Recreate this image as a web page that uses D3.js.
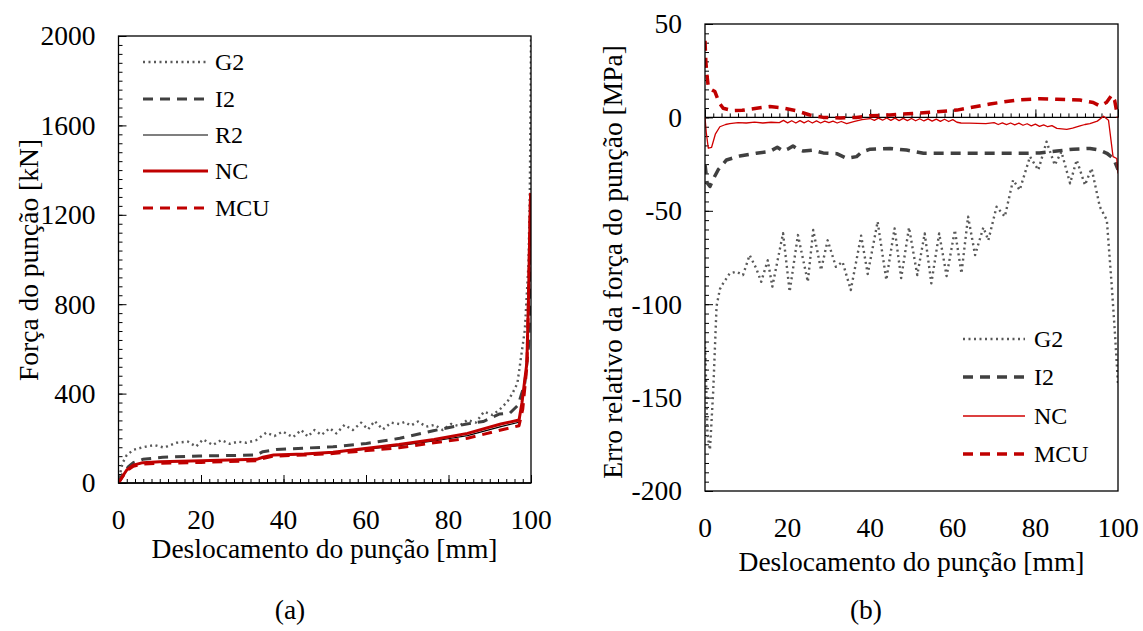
<!DOCTYPE html>
<html>
<head>
<meta charset="utf-8">
<script src="https://cdn.jsdelivr.net/npm/d3@7/dist/d3.min.js"></script>
<style>
  html, body { margin: 0; padding: 0; background: #fff; }
  svg { display: block; }
  text { font-family: 'Liberation Serif', 'Times New Roman', serif; fill: #000; }
</style>
</head>
<body>
<svg id="chart" width="1143" height="631"></svg>
<script>
// ---------------- DATA ----------------
// Panel (a): punch force [kN] vs punch displacement [mm]
const xTicks = [0, 20, 40, 60, 80, 100];
const forceTicks = [0, 400, 800, 1200, 1600, 2000];
const errorTicks = [-200, -150, -100, -50, 0, 50];

const G2_force = [[0,0],[0.5,50],[1,90],[2,125],[3.6,148],[5.9,160],[8.7,170],[11.1,158],[14,180],[16.8,185],[18.8,163],[20.5,195],[22.9,170],[24.9,192],[27,175],[29,185],[31,180],[33.4,192],[35.8,225],[37.8,210],[39.8,230],[42.3,205],[44.3,237],[45.9,208],[47.5,237],[49.2,215],[51.2,245],[52.8,222],[54.8,260],[56.8,237],[58.8,270],[60.5,240],[62.1,277],[64.1,240],[66.1,270],[68.1,264],[69.3,273],[70.9,257],[72.6,275],[74.6,252],[76.6,260],[78.6,237],[80.6,264],[82.6,255],[84.6,282],[86.6,270],[88.6,319],[90.7,304],[92.7,334],[94.3,364],[95.5,401],[96.7,446],[98.5,684],[99.4,984],[99.7,1281],[99.9,1700],[100,2000]];
const I2_force = [[0,0],[1,40],[2.4,73],[3.6,91],[5.9,106],[10.7,115],[19.6,121],[33.4,125],[35,140],[38.2,150],[52,162],[60.1,177],[68.2,200],[76.3,234],[84.4,264],[88.4,275],[92.4,309],[94.9,313],[96.9,349],[98.5,447],[99.4,610],[99.8,850],[100,1000]];
const R2_force = [[0,0],[1,30],[2,58],[3.6,80],[5.9,90],[10,94],[20,99],[33.5,105],[35,114],[37.6,124],[45,129],[52,137],[60.3,152],[68,167],[76.5,188],[84.6,212],[92.7,252],[97.1,272],[97.8,350],[99,530],[99.4,830],[99.7,1130],[99.9,1295]];
const NC_force = [[0,0],[1,30],[2,58],[3.6,80],[5.9,91],[10,95],[20,100],[33.5,106],[35,115],[37.6,125],[45,130],[52,138],[60.3,155],[68,172],[76.5,195],[84.6,222],[92.7,264],[97.1,282],[97.8,358],[99,537],[99.4,834],[99.7,1132],[99.9,1298]];
const MCU_force = [[0,0],[1,28],[2,55],[3.6,75],[5.9,85],[10,88],[20,92],[33.5,100],[35,110],[37.6,120],[45,125],[52,132],[60.3,145],[68,158],[76.5,180],[84.6,200],[92.7,237],[97.1,256],[98,330],[99,520],[99.4,820],[99.7,1120],[99.9,1290]];

// Panel (b): relative error of punch force vs punch displacement [mm]
const G2_error = [[0,-120],[0.6,-170],[1.2,-178],[2,-146],[2.8,-101],[3.6,-92],[4.4,-88.8],[6,-83.5],[7.6,-82.6],[9.2,-84.4],[10.8,-73.7],[12.4,-80.8],[13.6,-88],[15.2,-76.5],[16.3,-90.6],[18.9,-62],[20.5,-93.3],[22.5,-63],[24.9,-88],[26.2,-60.3],[28.1,-81.7],[29.7,-65.8],[31.7,-80],[33.3,-77.3],[35.3,-92.4],[37.8,-63.3],[39.4,-83.8],[41.8,-55.8],[43.9,-87],[45.9,-59.4],[47.5,-86],[49.4,-58.9],[51.4,-84.4],[53.2,-62.1],[54.8,-88.8],[56.7,-62.1],[58.5,-84.9],[60.5,-60.3],[62.1,-83.5],[63.7,-53.1],[65.4,-73.7],[67.4,-58.9],[68.6,-65.8],[70.6,-47.8],[72.6,-53.1],[74.6,-33.5],[76.2,-38.9],[78.7,-21],[80.7,-28.2],[82.7,-13],[84.7,-25.5],[86.3,-18.4],[88.4,-35.3],[90,-22.8],[92,-36.2],[93.6,-27.3],[95.6,-47.8],[97.3,-55],[98.5,-90.6],[99.3,-117],[100,-143]];
const I2_error = [[0,-25],[0.5,-35],[1.2,-37],[2,-33],[3.2,-28],[5.2,-22.8],[8.4,-20.7],[12.4,-19.2],[15.7,-18.2],[17.5,-16],[18.9,-18],[20,-17],[21.3,-15.3],[22.5,-17],[23.8,-18],[26,-17.5],[28.6,-19],[31.9,-19.4],[34.3,-21.9],[36.7,-21],[38,-18.5],[40,-17],[44.8,-16.6],[48.8,-17.5],[52.9,-19.2],[61,-19.2],[69,-19.2],[77.1,-19.2],[81,-19],[85.2,-18],[89.2,-17],[93.2,-16.6],[95.5,-17.5],[97.3,-19.2],[98.9,-21.9],[100,-28]];
const NC_error = [[0,0],[0.3,-8],[0.8,-16.5],[1.6,-16],[2.5,-9],[3.6,-5],[5,-3.8],[6,-3.3],[8,-2.8],[10,-3],[12,-2.5],[14,-3],[16,-2.6],[18,-2.8],[19,-1.6],[20,-2.9],[21,-1.8],[22,-3.0],[23,-1.7],[24,-2.9],[25,-1.8],[26,-3.0],[27,-1.9],[28,-3.0],[29,-2.0],[30,-2.8],[31,-2.0],[32,-3.0],[33,-2.2],[34.3,-3.3],[36,-2.3],[38,-1.2],[40,-0.6],[41,-1.6],[42,-0.4],[43,-1.5],[44,-0.3],[45,-1.6],[46,-0.4],[47,-1.7],[48,-0.5],[49,-1.7],[50,-0.6],[51,-1.8],[52,-0.7],[53,-1.9],[54,-0.8],[55,-2.0],[56,-0.9],[57,-2.1],[58,-1.0],[59,-2.2],[60,-1.2],[61,-2.6],[62,-3.0],[64,-3.1],[66,-3.2],[68,-3.3],[70,-2.8],[71,-3.8],[72,-2.9],[73,-3.9],[74,-3.0],[75,-4.0],[76,-3.1],[77,-4.2],[78,-3.4],[79,-4.5],[80,-3.6],[81,-4.8],[82,-4.0],[83,-5.0],[84,-4.4],[85.2,-5.9],[87.6,-6.4],[89,-5.8],[90.8,-4.6],[92,-3.8],[93.2,-3.3],[95,-2.0],[96.5,0.6],[97.7,-1.5],[98.8,-21],[99.7,-22],[100,-30]];
const MCU_error = [[0,41],[0.2,30],[0.5,22],[0.8,16.4],[1.5,15],[2.4,13.8],[3.4,8],[4.4,4.9],[6.8,3.6],[9,3.8],[12.5,4.9],[15.7,5.8],[18.1,5.3],[22.1,3.6],[25.4,1.3],[28.6,0],[32.7,-0.3],[36.7,0],[40,0.9],[44.8,1.3],[52.9,2.5],[61,3.9],[69,7.2],[75.5,9.3],[81.1,10],[85.2,9.7],[90.8,9.3],[94,8],[95.6,6.1],[97.2,8],[98.5,12],[99.2,9],[99.7,3],[100,0]];

const legendA = ["G2", "I2", "R2", "NC", "MCU"];
const legendB = ["G2", "I2", "NC", "MCU"];

// ---------------- STYLES ----------------
const FONT_TICK = 27.5, FONT_TITLE = 27.5, FONT_LEG = 24;
const styleA = {
  G2:  {stroke: "#595959", width: 2.4, dash: "2,3.5"},
  I2:  {stroke: "#404040", width: 3, dash: "10,7"},
  R2:  {stroke: "#000000", width: 1.2, dash: null},
  NC:  {stroke: "#c00000", width: 3, dash: null},
  MCU: {stroke: "#c00000", width: 3, dash: "10,7"}
};
const styleB = {
  G2:  {stroke: "#595959", width: 2.4, dash: "2,3.5"},
  I2:  {stroke: "#404040", width: 3.5, dash: "10,7"},
  NC:  {stroke: "#d00000", width: 1.3, dash: null},
  MCU: {stroke: "#c00000", width: 3.5, dash: "10,7"}
};

const svg = d3.select("#chart");

function drawPanel(opts) {
  const {x, y, yTicks, yMinorStep, xMinorStep, xAxisAt, series, styles, clipId} = opts;
  const g = svg.append("g");
  const [x0, x1] = x.range();
  const [yb, yt] = y.range();

  // clip
  svg.append("defs").append("clipPath").attr("id", clipId)
    .append("rect").attr("x", x0).attr("y", yt).attr("width", x1 - x0).attr("height", yb - yt);

  // minor y ticks (inward)
  const yd = y.domain();
  const yMinor = d3.range(yd[0], yd[1] + 1e-9, yMinorStep);
  g.append("g").attr("transform", `translate(${x0},0)`)
    .call(d3.axisLeft(y).tickValues(yMinor).tickSize(-4).tickFormat(""))
    .call(s => s.select(".domain").remove());
  // major y ticks with labels
  g.append("g").attr("transform", `translate(${x0},0)`)
    .call(d3.axisLeft(y).tickValues(yTicks).tickSize(-8).tickPadding(23).tickFormat(d => d))
    .call(s => s.select(".domain").remove())
    .call(s => s.selectAll("text").style("font-size", FONT_TICK + "px")
      .style("font-family", "'Liberation Serif','Times New Roman',serif"));

  // x ticks at xAxisAt (pointing up)
  const xMinor = d3.range(0, 100 + 1e-9, xMinorStep);
  g.append("g").attr("transform", `translate(0,${y(xAxisAt)})`)
    .call(d3.axisBottom(x).tickValues(xMinor).tickSize(-4).tickFormat(""))
    .call(s => s.select(".domain").remove());
  g.append("g").attr("transform", `translate(0,${y(xAxisAt)})`)
    .call(d3.axisBottom(x).tickValues(xTicks).tickSize(-8).tickFormat(""))
    .call(s => s.select(".domain").remove());
  // horizontal line at xAxisAt
  g.append("line").attr("x1", x0).attr("x2", x1)
    .attr("y1", y(xAxisAt)).attr("y2", y(xAxisAt))
    .attr("stroke", "#000").attr("stroke-width", 1.3);

  // x labels at bottom
  g.append("g").selectAll("text").data(xTicks).join("text")
    .attr("x", d => x(d)).attr("y", yb + 36).attr("dy", "0.35em")
    .attr("text-anchor", "middle").style("font-size", FONT_TICK + "px").text(d => d);

  // series
  const line = d3.line().x(d => x(d[0])).y(d => y(d[1])).curve(d3.curveLinear);
  const lg = g.append("g").attr("clip-path", `url(#${clipId})`);
  series.forEach(s => {
    const st = styles[s.name];
    lg.append("path").datum(s.data)
      .attr("fill", "none").attr("stroke", st.stroke).attr("stroke-width", st.width)
      .attr("stroke-dasharray", st.dash).attr("stroke-linejoin", "round")
      .attr("d", line);
  });

  // frame
  g.append("rect").attr("x", x0).attr("y", yt).attr("width", x1 - x0).attr("height", yb - yt)
    .attr("fill", "none").attr("stroke", "#000").attr("stroke-width", 1.3);
  return g;
}

// ---------- Panel (a) ----------
const xA = d3.scaleLinear().domain([0, 100]).range([118.5, 531]);
const yA = d3.scaleLinear().domain([0, 2000]).range([483, 36]);
drawPanel({
  x: xA, y: yA, yTicks: forceTicks, yMinorStep: 40, xMinorStep: 2, xAxisAt: 0,
  series: [
    {name: "G2", data: G2_force}, {name: "I2", data: I2_force},
    {name: "R2", data: R2_force}, {name: "MCU", data: MCU_force}, {name: "NC", data: NC_force}
  ],
  styles: styleA, clipId: "clipA"
});

// ---------- Panel (b) ----------
const xB = d3.scaleLinear().domain([0, 100]).range([705, 1118]);
const yB = d3.scaleLinear().domain([-200, 50]).range([491, 24]);
drawPanel({
  x: xB, y: yB, yTicks: errorTicks, yMinorStep: 5, xMinorStep: 2, xAxisAt: 0,
  series: [
    {name: "G2", data: G2_error}, {name: "I2", data: I2_error},
    {name: "MCU", data: MCU_error}, {name: "NC", data: NC_error}
  ],
  styles: styleB, clipId: "clipB"
});

// ---------- Legends ----------
function legend(names, styles, x1, x2, tx, ys) {
  const lg = svg.append("g");
  names.forEach((n, i) => {
    const st = styles[n];
    lg.append("line").attr("x1", x1).attr("x2", x2).attr("y1", ys[i]).attr("y2", ys[i])
      .attr("stroke", st.stroke).attr("stroke-width", st.width).attr("stroke-dasharray", st.dash);
    lg.append("text").attr("x", tx).attr("y", ys[i]).attr("dy", "0.35em")
      .style("font-size", FONT_LEG + "px").text(n);
  });
}
legend(legendA, styleA, 143, 208, 215, [62, 99, 135, 171, 208]);
legend(legendB, styleB, 963, 1025, 1034, [339, 377, 416, 454]);

// ---------- Titles ----------
svg.append("text").attr("x", 324.5).attr("y", 548).attr("dy", "0.35em").attr("text-anchor", "middle")
  .style("font-size", FONT_TITLE + "px").text("Deslocamento do punção [mm]");
svg.append("text").attr("x", 911.5).attr("y", 561).attr("dy", "0.35em").attr("text-anchor", "middle")
  .style("font-size", FONT_TITLE + "px").text("Deslocamento do punção [mm]");
svg.append("text").attr("transform", "translate(28,260) rotate(-90)").attr("dy", "0.35em")
  .attr("text-anchor", "middle").style("font-size", FONT_TITLE + "px").text("Força do punção [kN]");
svg.append("text").attr("transform", "translate(612,262) rotate(-90)").attr("dy", "0.35em")
  .attr("text-anchor", "middle").style("font-size", FONT_TITLE + "px").text("Erro relativo da força do punção [MPa]");
svg.append("text").attr("x", 290).attr("y", 609).attr("dy", "0.35em").attr("text-anchor", "middle")
  .style("font-size", FONT_TITLE + "px").text("(a)");
svg.append("text").attr("x", 866).attr("y", 609).attr("dy", "0.35em").attr("text-anchor", "middle")
  .style("font-size", FONT_TITLE + "px").text("(b)");
</script>
</body>
</html>
